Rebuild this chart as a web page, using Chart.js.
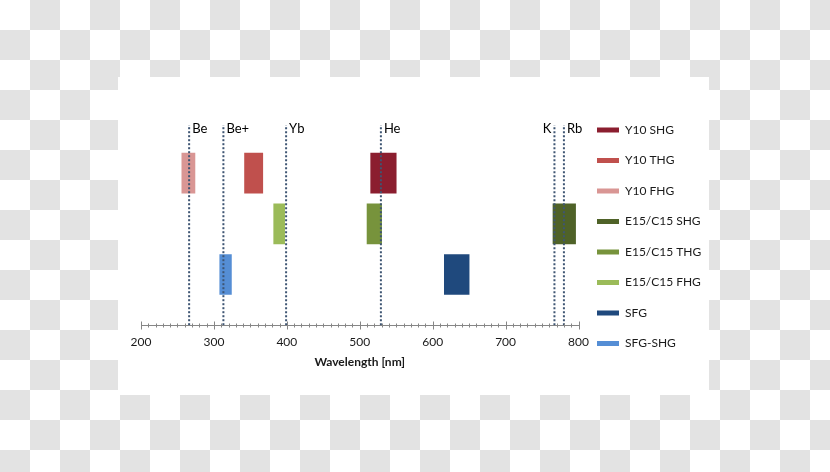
<!DOCTYPE html>
<html>
<head>
<meta charset="utf-8">
<script src="https://cdn.jsdelivr.net/npm/chart.js@4.4.3/dist/chart.umd.min.js"></script>
<style>
  html, body { margin: 0; padding: 0; }
  body {
    width: 830px; height: 472px; overflow: hidden;
    background: repeating-conic-gradient(#e3e3e3 0 25%, #ffffff 0 50%) 0 0 / 60px 60px;
  }
  #sheet { position: absolute; left: 118px; top: 77px; width: 591px; height: 318px; background: #fff; }
  #wrap { position: absolute; left: 0; top: 0; width: 830px; height: 472px; }
</style>
</head>
<body>
<div id="sheet"></div>
<div id="wrap"><canvas id="chart"></canvas></div>
<script>
// bandes de conversion (nm)
const SERIES = ["Y10 SHG", "Y10 THG", "Y10 FHG", "E15/C15 SHG", "E15/C15 THG", "E15/C15 FHG", "SFG", "SFG-SHG"];
const ROWS = [3, 3, 3, 2, 2, 2, 1, 1];
const STARTS = [515, 342, 256, 765, 510, 382, 616, 308];
const ENDS = [550, 367, 274, 796, 530, 397, 650, 324];
const COLORS = ["#8b1e2f", "#c0504d", "#d99694", "#4f6228", "#77933c", "#9bbb59", "#1f497d", "#558ed5"];

// raies atomiques
const LINE_NAMES = ["Be", "Be+", "Yb", "He", "K", "Rb"];
const LINE_NM = [266, 313, 399, 529, 767, 780];
const LINE_TOP = 3.95;

const X_MIN = 200;
const X_MAX = 800;
const X_STEP = 100;
const X_MINOR = 10;

const FONT = "Lato, 'Liberation Sans', sans-serif";

const lineSets = LINE_NM.map((nm, i) => ({
  type: "line",
  label: LINE_NAMES[i],
  data: [{ x: nm, y: 0 }, { x: nm, y: LINE_TOP }],
  borderColor: "#3e5573",
  borderWidth: 2,
  borderDash: [2, 2],
  pointRadius: 0,
  fill: false,
  order: 0,
}));

const barSets = SERIES.map((name, i) => ({
  label: name,
  data: [{ x: [STARTS[i], ENDS[i]], y: ROWS[i] }],
  backgroundColor: COLORS[i],
  borderWidth: 0,
  barThickness: 40,
  grouped: false,
  order: 1,
}));

// graduations croisées + étiquettes des raies
const decor = {
  id: "decor",
  afterDraw(chart) {
    const { ctx, scales: { x, y } } = chart;
    const y0 = Math.round(y.getPixelForValue(0)) + 0.5;
    ctx.save();
    ctx.strokeStyle = "#868686";
    ctx.lineWidth = 1;
    for (let v = X_MIN; v <= X_MAX; v += X_MINOR) {
      const px = Math.round(x.getPixelForValue(v)) + 0.5;
      const major = v % X_STEP === 0;
      ctx.beginPath();
      ctx.moveTo(px, y0 - (major ? 4 : 2));
      ctx.lineTo(px, y0 + (major ? 4 : 2));
      ctx.stroke();
    }
    ctx.font = "13px " + FONT;
    ctx.fillStyle = "#000";
    ctx.textBaseline = "middle";
    LINE_NM.forEach((nm, i) => {
      const px = x.getPixelForValue(nm);
      const py = y.getPixelForValue(LINE_TOP) + 4;
      const crowded = LINE_NM[i + 1] !== undefined && LINE_NM[i + 1] - nm < 20;
      if (crowded) {
        ctx.textAlign = "right";
        ctx.fillText(LINE_NAMES[i], px - 3, py);
      } else {
        ctx.textAlign = "left";
        ctx.fillText(LINE_NAMES[i], px + 3, py);
      }
    });
    ctx.restore();
  },
};

new Chart(document.getElementById("chart"), {
  type: "bar",
  data: { datasets: [...lineSets, ...barSets] },
  options: {
    indexAxis: "y",
    responsive: true,
    maintainAspectRatio: false,
    animation: false,
    layout: { padding: { left: 141, top: 105.5, right: 121.5, bottom: 99 } },
    plugins: {
      tooltip: { enabled: false },
      legend: {
        position: "right",
        align: "start",
        maxWidth: 130,
        labels: {
          boxWidth: 22,
          boxHeight: 5,
          padding: 18.5,
          color: "#1a1a1a",
          font: { family: FONT, size: 12 },
          filter: (item, data) => data.datasets[item.datasetIndex].type !== "line",
        },
      },
    },
    scales: {
      x: {
        type: "linear",
        min: X_MIN,
        max: X_MAX,
        ticks: { stepSize: X_STEP, padding: 10, color: "#1a1a1a", font: { family: FONT, size: 12 } },
        grid: { display: true, drawOnChartArea: false, drawTicks: false, tickLength: 0 },
        border: { display: true, color: "#868686", width: 1 },
        title: {
          display: true,
          text: "Wavelength [nm]",
          color: "#1a1a1a",
          font: { family: FONT, size: 12, weight: "bold" },
          padding: { top: -5, bottom: 4 },
        },
      },
      y: {
        type: "linear",
        display: false,
        offset: false,
        min: 0,
        max: 4.335,
      },
    },
  },
  plugins: [decor],
});
</script>
</body>
</html>
